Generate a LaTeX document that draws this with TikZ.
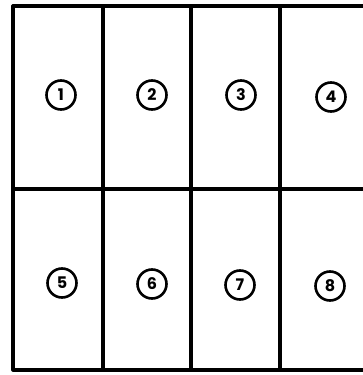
\documentclass[tikz,border=0pt]{standalone}
\usepackage{fontspec}
\newfontfamily\numfont{Poppins}
\begin{document}
\begin{tikzpicture}[x=1pt, y=-1pt, line cap=round, line join=round,
  gridline/.style={line width=3.2pt},
  numcircle/.style={circle, draw, line width=2.6pt, minimum size=29pt, inner sep=0pt,
    font=\numfont\bfseries\fontsize{16pt}{16pt}\selectfont}]

%-----------------------
% 画布：右边框在图外被裁掉
%-----------------------
\useasboundingbox (0,0) rectangle (362,375);
\fill[white] (0,0) rectangle (362,375);

%-----------------------
% 网格：4 列 2 行
%-----------------------
\draw[gridline] (13,6) rectangle (369,370);
\foreach \x in {103,191,280}
  \draw[gridline] (\x,6) -- (\x,370);
\draw[gridline] (13,189) -- (369,189);

%-----------------------
% 带圈编号
%-----------------------
\node[numcircle] (c1) at (61,95)  {1};
\node[numcircle] (c2) at (152,95) {2};
\node[numcircle] (c3) at (241,95) {3};
\node[numcircle] (c4) at (331,97) {4};
\node[numcircle] (c5) at (62,283)  {5};
\node[numcircle] (c6) at (152,284) {6};
\node[numcircle] (c7) at (240,285) {7};
\node[numcircle] (c8) at (330,286) {8};

\end{tikzpicture}
\end{document}
